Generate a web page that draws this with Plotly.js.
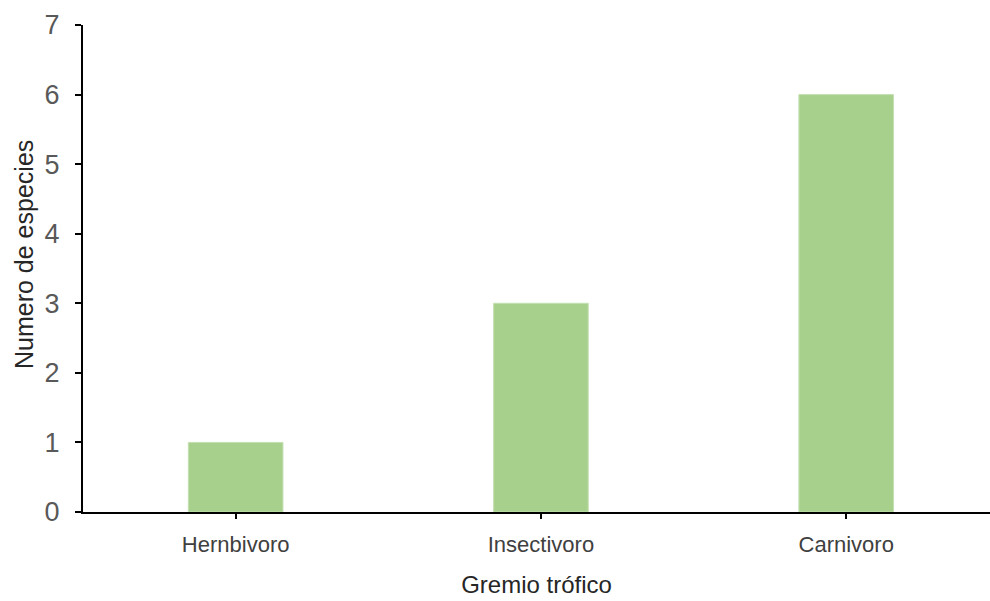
<!DOCTYPE html>
<html><head><meta charset="utf-8">
<script src="https://cdn.plot.ly/plotly-3.0.1.min.js"></script>
<style>html,body{margin:0;padding:0;background:#fff}#chart{width:990px;height:601px}</style>
</head><body><div id="chart"></div>
<script>
const categories = ["Hernbivoro", "Insectivoro", "Carnivoro"];
const species = [1, 3, 6];
const yTicks = [0, 1, 2, 3, 4, 5, 6, 7];
const xTitle = "Gremio trófico";
const yTitle = "Numero de especies";

const font = "'Liberation Sans', Arial, sans-serif";
const data = [{
  type: "bar",
  x: categories,
  y: species,
  width: 0.31,
  marker: {color: "rgb(168,208,141)", line: {color: "rgb(196,224,178)", width: 1}},
  hoverinfo: "x+y"
}];
const layout = {
  width: 990, height: 601,
  margin: {l: 83, r: 0, t: 25, b: 89},
  paper_bgcolor: "#fff", plot_bgcolor: "#fff",
  showlegend: false,
  font: {family: font},
  xaxis: {
    type: "category",
    range: [-0.5, 2.471],
    showline: true, linecolor: "#000", linewidth: 2,
    ticks: "outside", ticklen: 5, tickwidth: 2, tickcolor: "#000",
    ticklabelstandoff: 7,
    tickfont: {size: 22, color: "#404040"},
    title: {text: xTitle, font: {size: 24, color: "#262626"}, standoff: 20},
    showgrid: false, zeroline: false
  },
  yaxis: {
    range: [0, 7],
    tickvals: yTicks,
    showline: true, linecolor: "#000", linewidth: 2,
    ticks: "outside", ticklen: 6, tickwidth: 2, tickcolor: "#000",
    ticklabelstandoff: 10,
    tickfont: {size: 27, color: "#595959"},
    showgrid: false, zeroline: false
  },
  annotations: [{
    text: yTitle, textangle: -90, showarrow: false,
    xref: "paper", yref: "paper", x: -83/907, xanchor: "left",
    y: (512 - 255) / 487, yanchor: "middle",
    xshift: 8,
    font: {size: 25, color: "#262626", family: font}
  }]
};
Plotly.newPlot("chart", data, layout, {displayModeBar: false, staticPlot: true});
</script></body></html>
